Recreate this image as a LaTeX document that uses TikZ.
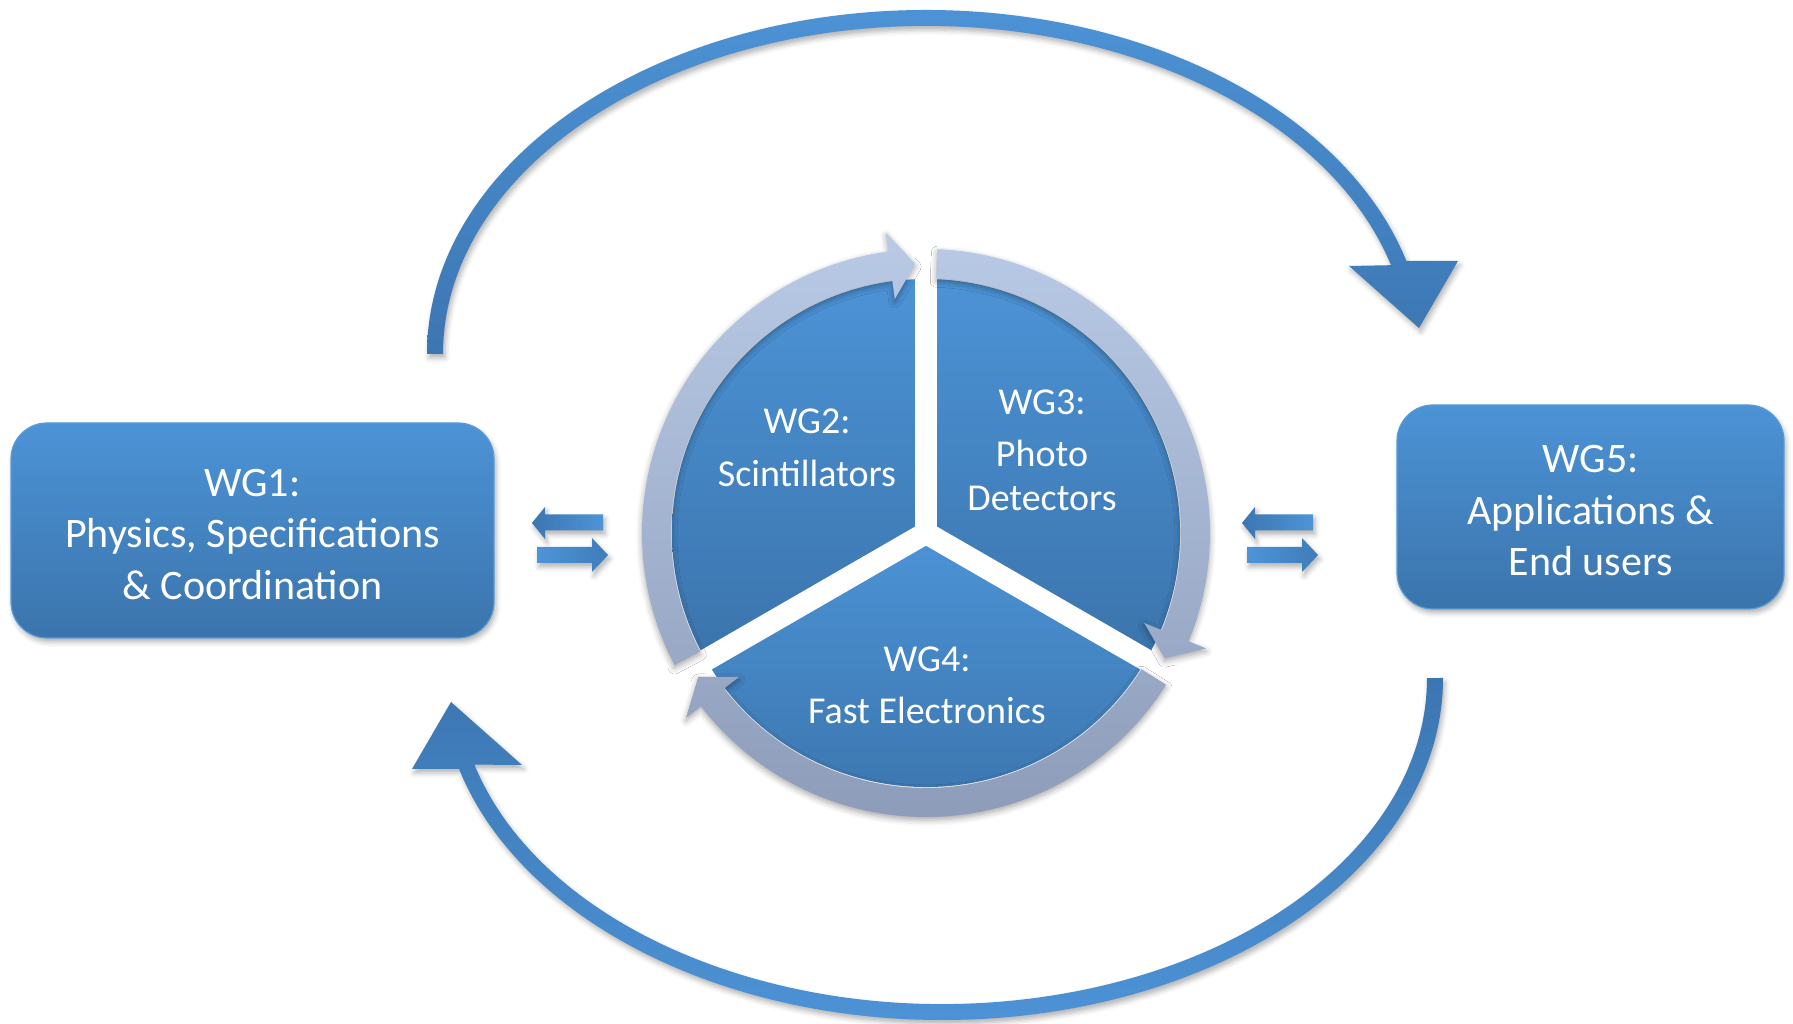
\documentclass[tikz,border=0pt]{standalone}
\usepackage{fontspec}
\setmainfont{Carlito}
\usetikzlibrary{shadows.blur}
\definecolor{boxtop}{RGB}{76,147,214}
\definecolor{boxbot}{RGB}{59,116,172}
\definecolor{boxedge}{RGB}{90,155,214}
\definecolor{ringtop}{RGB}{185,202,230}
\definecolor{ringbot}{RGB}{140,156,185}
\definecolor{arclight}{RGB}{77,148,215}
\definecolor{arcdark}{RGB}{60,118,178}
\newcommand\wgboxfont{\fontsize{42}{51.5}\selectfont}
\newcommand\wgpiefont{\fontsize{38}{44}\selectfont}
\tikzset{
  softshadow/.style={blur shadow={shadow xshift=2pt,shadow yshift=-4pt,shadow blur radius=5pt,shadow opacity=30}},
  boxshape/.style={rectangle,rounded corners=36pt,top color=boxtop,bottom color=boxbot,draw=boxedge,line width=1.2pt,softshadow},
  boxtext/.style={text=white,align=center,font=\wgboxfont,inner sep=0pt},
  pietext/.style={text=white,align=center,font=\wgpiefont,inner sep=0pt},
  wedgeshape/.style={top color=boxtop,bottom color=boxbot},
  gapline/.style={white,line width=22pt},
  ringshape/.style={top color=ringtop,bottom color=ringbot,blur shadow={shadow xshift=0pt,shadow yshift=-3pt,shadow blur radius=6pt,shadow opacity=35}},
  smallarrow/.style={softshadow},
}
\begin{document}
\begin{tikzpicture}[x=1pt,y=1pt]
\useasboundingbox (0,0) rectangle (1793,1024);

% side boxes
\node[boxshape,minimum width=483pt,minimum height=215pt] (wg1box) at (252.5,493.5) {};
\node[boxtext] (wg1) at (252.5,489.5) {WG1:\\Physics, Specifications\\\& Coordination};
\node[boxshape,minimum width=387pt,minimum height=204pt] (wg5box) at (1590.5,517) {};
\node[boxtext] (wg5) at (1590.5,513) {WG5:\\Applications \&\\End users};

% central pie
\begin{scope}[shift={(926,491)}]
  \shade[wedgeshape] (0,0) -- (90:254pt) arc[start angle=90,end angle=210,radius=254pt] -- cycle;
  \shade[wedgeshape] (0,0) -- (-30:254pt) arc[start angle=-30,end angle=90,radius=254pt] -- cycle;
  \shade[wedgeshape] (0,0) -- (210:254pt) arc[start angle=210,end angle=330,radius=254pt] -- cycle;
  \draw[gapline] (0,0) -- (90:310pt);
  \draw[gapline] (0,0) -- (210:310pt);
  \draw[gapline] (0,0) -- (330:310pt);
  \shade[ringshape]
    (207.7:284pt) arc[start angle=207.7,end angle=97.6,radius=284pt] -- (97.6:303pt) -- (92.3:269.5pt) -- (97.6:236pt) -- (97.6:255pt) arc[start angle=97.6,end angle=207.7,radius=255pt] -- cycle
    (87.7:284pt) arc[start angle=87.7,end angle=-22.4,radius=284pt] -- (-22.4:303pt) -- (-27.7:269.5pt) -- (-22.4:236pt) -- (-22.4:255pt) arc[start angle=-22.4,end angle=87.7,radius=255pt] -- cycle
    (-32.3:284pt) arc[start angle=-32.3,end angle=-142.4,radius=284pt] -- (-142.4:303pt) -- (-147.7:269.5pt) -- (-142.4:236pt) -- (-142.4:255pt) arc[start angle=-142.4,end angle=-32.3,radius=255pt] -- cycle;
\end{scope}
\node[pietext] (wg2) at (807,576) {WG2:\\[8.5pt]Scintillators};
\node[pietext] (wg3) at (1042,573.5) {WG3:\\[8.5pt]Photo\\Detectors};
\node[pietext] (wg4) at (927,339) {WG4:\\[8pt]Fast Electronics};

% double arrows left
\shade[smallarrow,left color=arcdark,right color=arclight] (532,501) -- (545,517) -- (545,509.5) -- (603,509.5) -- (603,493.5) -- (545,493.5) -- (545,485) -- cycle;
\shade[smallarrow,left color=arclight,right color=arcdark!80!arclight] (537,477) -- (592,477) -- (592,486) -- (608,469) -- (592,452) -- (592,461) -- (537,461) -- cycle;
% double arrows right
\begin{scope}[xshift=710pt]
\shade[smallarrow,left color=arcdark,right color=arclight] (532,501) -- (545,517) -- (545,509.5) -- (603,509.5) -- (603,493.5) -- (545,493.5) -- (545,485) -- cycle;
\shade[smallarrow,left color=arclight,right color=arcdark!80!arclight] (537,477) -- (592,477) -- (592,486) -- (608,469) -- (592,452) -- (592,461) -- (537,461) -- cycle;
\end{scope}

% big top arc arrow (WG1 -> WG5)
\begin{scope}[shift={(926,670)}]
\shade[softshadow,top color=arclight,bottom color=arcdark]
  (-499,0) arc[start angle=180,end angle=15.7,x radius=499pt,y radius=344pt]
  -- (532,93) -- (493,26) -- (423,88) -- (465,88.8)
  arc[start angle=15.7,end angle=180,x radius=483pt,y radius=328pt] -- cycle;
\end{scope}
% big bottom arc arrow (WG5 -> WG1)
\begin{scope}[shift={(942,346)}]
\shade[softshadow,top color=arcdark,bottom color=arclight]
  (501,0) arc[start angle=0,end angle=-164.6,x radius=501pt,y radius=342pt]
  -- (-530,-91) -- (-491,-24) -- (-420,-87) -- (-467.6,-86.6)
  arc[start angle=-164.6,end angle=0,x radius=485pt,y radius=326pt] -- cycle;
\end{scope}
\end{tikzpicture}
\end{document}
